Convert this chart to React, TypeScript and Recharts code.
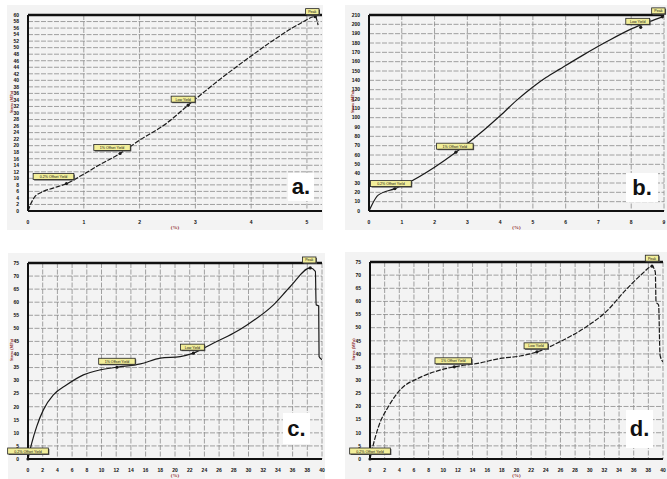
import React from 'react'
import {
  LineChart,
  Line,
  XAxis,
  YAxis,
  CartesianGrid,
  ReferenceLine,
  ReferenceDot,
} from 'recharts'

// Panel a
const strainA = [0, 0.05, 0.12, 0.25, 0.45, 0.69, 1.02, 1.3, 1.65, 2.0, 2.48, 2.87, 3.38, 3.98, 4.4, 4.88, 5.15, 5.2]
const stressA = [0, 2.2, 4.3, 5.8, 7.0, 8.4, 11.5, 14.3, 17.6, 21.7, 26.8, 32.4, 39.5, 47.2, 52.3, 57.4, 59.5, 56.9]
const xTicksA = [0, 1, 2, 3, 4, 5]
const yTicksA = [0, 2, 4, 6, 8, 10, 12, 14, 16, 18, 20, 22, 24, 26, 28, 30, 32, 34, 36, 38, 40, 42, 44, 46, 48, 50, 52, 54, 56, 58, 60]

// Panel b
const strainB = [0, 0.08, 0.28, 0.79, 1.14, 2.0, 2.65, 3.5, 4.0, 4.51, 5.02, 5.4, 5.82, 6.53, 7.23, 8.04, 8.55, 8.95]
const stressB = [0, 6, 17, 24, 29.4, 47, 63, 86.6, 102, 118.8, 133.5, 143, 152, 167, 181, 195.7, 202.8, 208]
const xTicksB = [0, 1, 2, 3, 4, 5, 6, 7, 8, 9]
const yTicksB = [0, 10, 20, 30, 40, 50, 60, 70, 80, 90, 100, 110, 120, 130, 140, 150, 160, 170, 180, 190, 200, 210]

// Panel c
const strainC = [0, 0.5, 1.18, 2.09, 3.45, 5.27, 7.54, 9.8, 12.1, 15.3, 18, 20.7, 22.5, 25.2, 28, 29.8, 33.4, 35.7, 38.4, 39.1, 39.2, 39.55, 39.6, 40]
const stressC = [0, 6, 12.4, 18.8, 24.5, 28.4, 32.2, 34.1, 35.1, 36.4, 38.6, 39.2, 40.5, 44.3, 48.2, 51.3, 59, 66, 73.1, 71.8, 59, 58.6, 39.2, 38]

// Panel d
const strainD = [0, 0.27, 1.16, 2.5, 4.32, 6.56, 8.8, 11.5, 14.7, 17.8, 20.5, 22.8, 25.9, 29.5, 32.2, 34.9, 37.2, 38.5, 38.95, 39.05, 39.4, 39.6, 40]
const stressD = [0, 3.4, 12.3, 19.9, 26.9, 30.7, 33.2, 35.1, 36.4, 38.3, 39.2, 40.8, 44.6, 50.3, 56, 64.3, 70.6, 73.4, 71.2, 59.8, 58.6, 39.5, 37]

const xTicksCD = [0, 2, 4, 6, 8, 10, 12, 14, 16, 18, 20, 22, 24, 26, 28, 30, 32, 34, 36, 38, 40]
const yTicksCD = [0, 5, 10, 15, 20, 25, 30, 35, 40, 45, 50, 55, 60, 65, 70, 75]

const noteNames = ['0.2% Offset Yield', '1% Offset Yield', 'Low Yield', 'Peak']
const noteStrainA = [0.69, 1.65, 2.87, 5.15]
const noteStressA = [8.4, 17.6, 32.4, 59.5]
const noteStrainB = [0.79, 2.65, 8.29, 8.95]
const noteStressB = [24, 63, 196.8, 208]
const noteStrainC = [0, 12.1, 22.5, 38.4]
const noteStressC = [0, 35.1, 40.5, 73.1]
const noteStrainD = [0, 11.5, 22.8, 38.5]
const noteStressD = [0, 35.1, 40.8, 73.4]

type Pt = { strain: number; stress: number }
const zip = (xs: number[], ys: number[]): Pt[] => xs.map((x, i) => ({ strain: x, stress: ys[i] }))

interface PanelProps {
  left: number
  top: number
  width: number
  height: number
  margin: { top: number; right: number; bottom: number; left: number }
  data: Pt[]
  xDomain: [number, number]
  yDomain: [number, number]
  xTicks: number[]
  yTicks: number[]
  dashed: boolean
  noteX: number[]
  noteY: number[]
  noteOffsets: [number, number][]
  letter: string
  letterBox: { left: number; top: number; width: number; height: number }
  bg: { left: number; top: number; width: number; height: number }
}

const NoteShape = (props: any) => {
  const { cx, cy, text, dx, dy } = props
  const w = text.length * 2.1 + 5
  const h = 6
  const bx = cx + dx - w / 2
  const by = cy + dy - h / 2
  return (
    <g>
      <circle cx={cx} cy={cy} r={1.6} fill="#1a1a1a" />
      <rect x={bx + 1} y={by + 1} width={w} height={h} fill="#555" />
      <rect x={bx} y={by} width={w} height={h} fill="#f2ee9a" stroke="#222" strokeWidth={0.8} />
      <text x={bx + w / 2} y={by + h - 1.5} textAnchor="middle" fontSize={3.6} fontFamily="Arial, sans-serif" fill="#111">
        {text}
      </text>
    </g>
  )
}

function Panel(p: PanelProps) {
  const tick = { fill: '#111', fontSize: 5, fontWeight: 700, fontFamily: 'Arial, sans-serif' }
  return (
    <>
      <div
        style={{
          position: 'absolute',
          left: p.bg.left,
          top: p.bg.top,
          width: p.bg.width,
          height: p.bg.height,
          background: '#f3f3f3',
        }}
      />
      <div style={{ position: 'absolute', left: p.left, top: p.top }}>
        <LineChart width={p.width} height={p.height} data={p.data} margin={p.margin}>
          <CartesianGrid
            stroke="#8a8a8a"
            strokeDasharray="5 1.5"
            strokeWidth={0.8}
            horizontalValues={p.yTicks}
            verticalValues={p.xTicks}
          />
          <XAxis
            dataKey="strain"
            type="number"
            domain={p.xDomain}
            ticks={p.xTicks}
            allowDataOverflow
            interval={0}
            tick={tick}
            tickLine={false}
            tickMargin={3}
            axisLine={{ stroke: '#111', strokeWidth: 2 }}
            height={18}
            label={{ value: '(%)', position: 'insideBottom', offset: 0, fontSize: 5, fill: '#8b1a1a', fontWeight: 700 }}
          />
          <YAxis
            type="number"
            domain={p.yDomain}
            ticks={p.yTicks}
            allowDataOverflow
            interval={0}
            tick={tick}
            tickLine={false}
            tickMargin={3}
            axisLine={{ stroke: '#111', strokeWidth: 2 }}
            width={18}
            label={{ value: 'Stress (MPa)', angle: -90, position: 'insideLeft', offset: 2, fontSize: 4, fill: '#8b1a1a', fontWeight: 700 }}
          />
          <ReferenceLine y={p.yDomain[1]} stroke="#111" strokeWidth={2.5} />
          <Line
            type="monotone"
            dataKey="stress"
            stroke="#1a1a1a"
            strokeWidth={1.2}
            strokeDasharray={p.dashed ? '5 1.5' : undefined}
            dot={false}
            isAnimationActive={false}
          />
          {noteNames.map((name, i) => (
            <ReferenceDot
              key={name}
              x={p.noteX[i]}
              y={p.noteY[i]}
              ifOverflow="visible"
              shape={(s: any) => <NoteShape {...s} text={name} dx={p.noteOffsets[i][0]} dy={p.noteOffsets[i][1]} />}
            />
          ))}
        </LineChart>
      </div>
      <div
        style={{
          position: 'absolute',
          left: p.letterBox.left,
          top: p.letterBox.top,
          width: p.letterBox.width,
          height: p.letterBox.height,
          background: '#fff',
          display: 'flex',
          alignItems: 'center',
          justifyContent: 'center',
          fontFamily: 'Arial, "Liberation Sans", sans-serif',
          fontWeight: 700,
          fontSize: 22,
          color: '#111',
        }}
      >
        {p.letter}
      </div>
    </>
  )
}

export default function App() {
  return (
    <div style={{ position: 'absolute', left: 0, top: 0, width: 667, height: 479, background: '#fff', overflow: 'hidden' }}>
      <Panel
        left={0}
        top={0}
        width={335}
        height={232}
        margin={{ top: 15, right: 13, bottom: 3, left: 10 }}
        data={zip(strainA, stressA)}
        xDomain={[0, 5.27]}
        yDomain={[0, 60]}
        xTicks={xTicksA}
        yTicks={yTicksA}
        dashed
        noteX={noteStrainA}
        noteY={noteStressA}
        noteOffsets={[[-13, -7], [-8, -6], [-5, -6], [-3, -5]]}
        letter="a."
        letterBox={{ left: 288, top: 173, width: 26, height: 28 }}
        bg={{ left: 7, top: 5, width: 316, height: 225 }}
      />
      <Panel
        left={335}
        top={0}
        width={332}
        height={232}
        margin={{ top: 15, right: 3, bottom: 3, left: 16 }}
        data={zip(strainB, stressB)}
        xDomain={[0, 9]}
        yDomain={[0, 210]}
        xTicks={xTicksB}
        yTicks={yTicksB}
        dashed={false}
        noteX={noteStrainB}
        noteY={noteStressB}
        noteOffsets={[[-4, -5], [-1, -6], [-3, -6], [-4, -6]]}
        letter="b."
        letterBox={{ left: 626, top: 173, width: 32, height: 29 }}
        bg={{ left: 345, top: 5, width: 322, height: 225 }}
      />
      <Panel
        left={0}
        top={240}
        width={335}
        height={239}
        margin={{ top: 23, right: 13, bottom: 2, left: 10 }}
        data={zip(strainC, stressC)}
        xDomain={[0, 40]}
        yDomain={[0, 75]}
        xTicks={xTicksCD}
        yTicks={yTicksCD}
        dashed={false}
        noteX={noteStrainC}
        noteY={noteStressC}
        noteOffsets={[[0, -8], [0, -6], [-1, -6], [-1, -8]]}
        letter="c."
        letterBox={{ left: 283, top: 413, width: 27, height: 31 }}
        bg={{ left: 8, top: 253, width: 317, height: 226 }}
      />
      <Panel
        left={335}
        top={240}
        width={332}
        height={239}
        margin={{ top: 22, right: 4, bottom: 2, left: 17 }}
        data={zip(strainD, stressD)}
        xDomain={[0, 40]}
        yDomain={[0, 75]}
        xTicks={xTicksCD}
        yTicks={yTicksCD}
        dashed
        noteX={noteStrainD}
        noteY={noteStressD}
        noteOffsets={[[0, -8], [-1, -6], [-1, -6], [0, -8]]}
        letter="d."
        letterBox={{ left: 626, top: 410, width: 27, height: 38 }}
        bg={{ left: 345, top: 252, width: 322, height: 227 }}
      />
    </div>
  )
}
